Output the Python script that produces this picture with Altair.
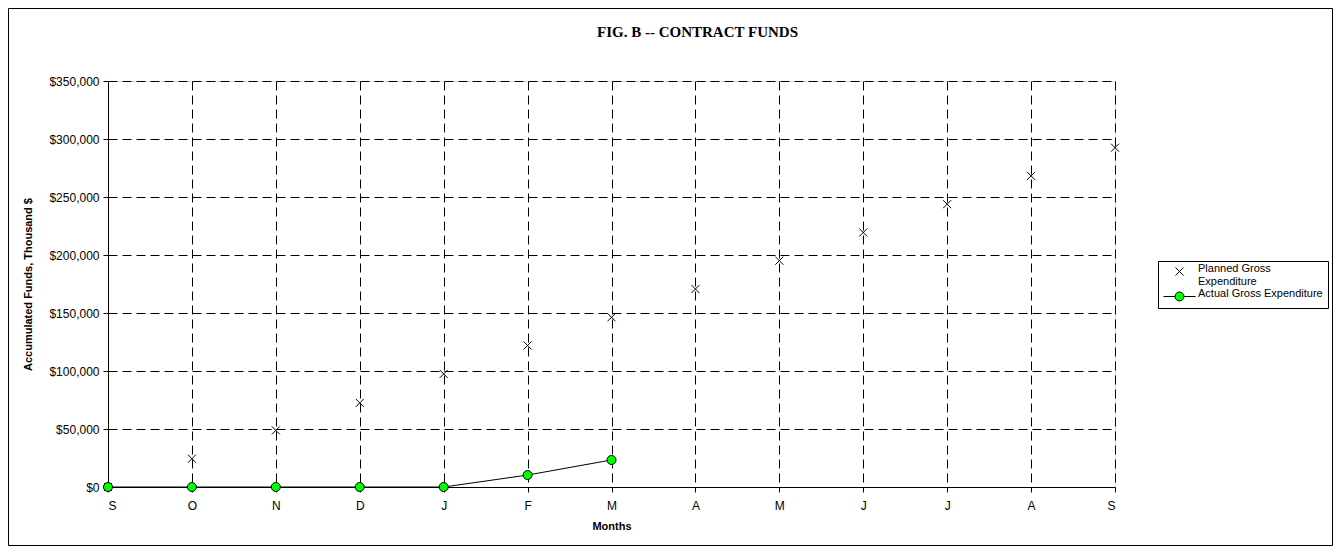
import json
import altair as alt
import pandas as pd

# ---- data ----
months = ["S", "O", "N", "D", "J", "F", "M", "A", "M", "J", "J", "A", "S"]
planned_values = [0, 24400, 48800, 72500, 97500, 122000, 146300, 170700,
                  195100, 219400, 243800, 268200, 292500]
actual_values = [0, 0, 0, 0, 0, 10300, 23300]
series_names = ["Planned Gross Expenditure", "Actual Gross Expenditure"]
y_ticks = [0, 50000, 100000, 150000, 200000, 250000, 300000, 350000]

planned_df = pd.DataFrame({"idx": list(range(len(planned_values))),
                           "value": planned_values,
                           "series": series_names[0]})
actual_df = pd.DataFrame({"idx": list(range(len(actual_values))),
                          "value": actual_values,
                          "series": series_names[1]})
legend_df = pd.concat([planned_df, actual_df], ignore_index=True)

X_PATH = "M-1,-1L1,1M1,-1L-1,1"
LINE_CIRCLE_PATH = ("M-4,0L-1.125,0M1.125,0L4,0"
                    "M1.125,0A1.125,1.125,0,1,1,-1.125,0A1.125,1.125,0,1,1,1.125,0")

FONT = "Liberation Sans"

x_enc = alt.X(
    "idx:Q",
    scale=alt.Scale(domain=[0, 12], nice=False, zero=False),
    axis=alt.Axis(
        values=list(range(13)),
        labelExpr=json.dumps(months) + "[datum.value]",
        title="Months",
        titleFontWeight="bold",
        titleFontSize=11,
        titlePadding=9,
        labelFontSize=12,
        labelPadding=8,
        tickSize=5,
        grid=True,
        gridDash=[9, 5],
        gridColor="#000000",
        gridWidth=1,
        domainColor="#000000",
        tickColor="#000000",
        labelColor="#000000",
        titleColor="#000000",
    ),
)
y_enc = alt.Y(
    "value:Q",
    scale=alt.Scale(domain=[0, 350000], nice=False),
    axis=alt.Axis(
        values=y_ticks,
        format="$,.0f",
        title="Accumulated Funds, Thousand $",
        titleFontWeight="bold",
        titleFontSize=11,
        titleX=-80,
        titleY=203,
        titleAlign="center",
        titleBaseline="middle",
        labelFontSize=12,
        labelPadding=4,
        tickSize=5,
        grid=True,
        gridDash=[9, 5],
        gridColor="#000000",
        gridWidth=1,
        domainColor="#000000",
        tickColor="#000000",
        labelColor="#000000",
        titleColor="#000000",
    ),
)

border = alt.Chart(pd.DataFrame({"a": [0]})).mark_rect(
    filled=False, stroke="#000000", strokeWidth=1
).encode(
    x=alt.value(-99.5), x2=alt.value(1224.5),
    y=alt.value(-72.5), y2=alt.value(464.5),
)

planned = alt.Chart(planned_df).mark_point(
    shape=X_PATH, size=64, filled=False, stroke="#000000", strokeWidth=1, opacity=1
).encode(x=x_enc, y=y_enc)

actual_line = alt.Chart(actual_df).mark_line(
    color="#000000", strokeWidth=1
).encode(x="idx:Q", y="value:Q")

actual_pts = alt.Chart(actual_df).mark_point(
    shape="circle", size=81, filled=True, fill="#00ff00",
    stroke="#000000", strokeWidth=1, opacity=1
).encode(x="idx:Q", y="value:Q")

legend = alt.Legend(
    title=None,
    orient="none",
    legendX=1050,
    legendY=180,
    strokeColor="#000000",
    fillColor="#ffffff",
    padding=5,
    symbolOffset=11,
    labelOffset=13,
    labelFont=FONT,
    labelFontSize=11,
    labelColor="#000000",
    labelBaseline="alphabetic",
    labelExpr="datum.label == 'Planned Gross Expenditure' ? ['Planned Gross', 'Expenditure'] : datum.label",
    symbolSize=64,
    symbolStrokeWidth=1,
    symbolStrokeColor="#000000",
    symbolOpacity=1,
    rowPadding=0,
)

legend_layer = alt.Chart(legend_df).mark_point(
    filled=True, opacity=0, strokeWidth=1
).encode(
    x="idx:Q",
    y="value:Q",
    shape=alt.Shape("series:N",
                    scale=alt.Scale(domain=series_names, range=[X_PATH, LINE_CIRCLE_PATH]),
                    legend=legend),
    fill=alt.Fill("series:N",
                  scale=alt.Scale(domain=series_names, range=["transparent", "#00ff00"]),
                  legend=legend),
    stroke=alt.Stroke("series:N",
                      scale=alt.Scale(domain=series_names, range=["#000000", "#000000"]),
                      legend=legend),
)

chart = alt.layer(border, planned, actual_line, actual_pts, legend_layer).properties(
    width=1007,
    height=406,
    autosize=alt.AutoSizeParams(type="none"),
    padding={"left": 100, "top": 73, "right": 218, "bottom": 59},
    title=alt.TitleParams(
        "FIG. B -- CONTRACT FUNDS",
        font="Liberation Serif",
        fontSize=15,
        fontWeight="bold",
        color="#000000",
        anchor="middle",
        frame="group",
        dx=86,
        dy=44,
        offset=0,
        baseline="alphabetic",
    ),
).configure_view(
    stroke="#999999", strokeWidth=1
).configure_axis(
    labelFont=FONT, titleFont=FONT
).configure(background="#ffffff")

chart.save("out.html", embed_options={"renderer": "svg", "actions": False})
